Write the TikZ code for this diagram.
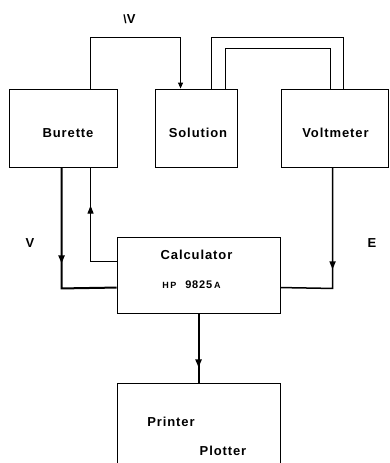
\documentclass[tikz,border=0pt]{standalone}
\usepackage{fontspec}
\newfontfamily\lbl[LetterSpace=7]{Liberation Sans}
\usetikzlibrary{arrows.meta,calc,decorations.markings}
\begin{document}
\begin{tikzpicture}[x=1pt,y=-1pt,
  box/.style={draw,line width=0.9pt,inner sep=0pt,minimum width=#1},
  box/.default=108pt,
  txt/.style={font=\lbl\bfseries\fontsize{13}{15}\selectfont},
  conn/.style={line width=1pt},
  thickconn/.style={line width=2pt},
  tip/.style={-{Triangle[length=6pt,width=5pt]}},
  markat/.style={postaction={decorate},decoration={markings,
     mark=at position #1 with {\arrow{Triangle[length=8pt,width=6pt]}}}}
]
\useasboundingbox (0,0) rectangle (389,463);
\node[box=108pt,minimum height=78pt,
  label={[txt,xshift=5pt,yshift=-5pt]center:Burette}] (bur) at (63,128) {};
\node[box=82pt,minimum height=78pt,
  label={[txt,xshift=2pt,yshift=-5pt]center:Solution}] (sol) at (196,128) {};
\node[box=107pt,minimum height=78pt,
  label={[txt,xshift=1pt,yshift=-5pt]center:Voltmeter}] (vol) at (334.5,128) {};
\node[box=163pt,minimum height=76pt,
  label={[txt,xshift=-2pt,yshift=20.5pt]center:Calculator},
  label={[font=\lbl\bfseries,inner sep=0pt,xshift=-7pt,yshift=-10pt]center:{\fontsize{9}{10}\selectfont H\hspace{1.5pt}P}\hspace{9pt}{\fontsize{11}{13}\selectfont 9825}\hspace{2pt}{\fontsize{9}{10}\selectfont A}}
  ] (calc) at (198.5,275) {};
\node[box=163pt,minimum height=88pt,
  label={[txt,xshift=-27.5pt,yshift=5pt]center:Printer},
  label={[txt,xshift=24.5pt,yshift=-24pt]center:Plotter}] (prt) at (198.5,427) {};
% labels
\node[txt] (dv) at (129.5,19) {{\fontsize{12}{14}\selectfont\char`\\}V};
\node[txt] (lv) at (30,243) {V};
\node[txt] (le) at (372,243) {E};
% connectors
\draw[conn,tip] ($(bur.north west)+(82,0)$) -- ++(0,-51) -| ($(sol.north west)+(26,0)$);
\draw[conn] ($(sol.north west)+(57,0)$) -- ++(0,-51) -| ($(vol.north west)+(63,0)$);
\draw[conn] ($(sol.north west)+(71,0)$) -- ++(0,-40) -| ($(vol.north west)+(50,0)$);
\draw[thickconn,markat=96pt] ($(bur.south west)+(53,0)$) -- ++(0,121) -- ($(calc.north west)+(0,51)$);
\draw[conn,markat=82pt] ($(calc.north west)+(0,25)$) -- ++(-26,0) -- ($(bur.south west)+(82,0)$);
\draw[line width=1.5pt,markat=102pt] ($(vol.south west)+(52,0)$) -- ++(0,121) -- ($(calc.north east)+(0,51)$);
\draw[thickconn,markat=54pt] ($(calc.south west)+(82,0)$) -- ($(prt.north west)+(82,0)$);
\end{tikzpicture}
\end{document}
